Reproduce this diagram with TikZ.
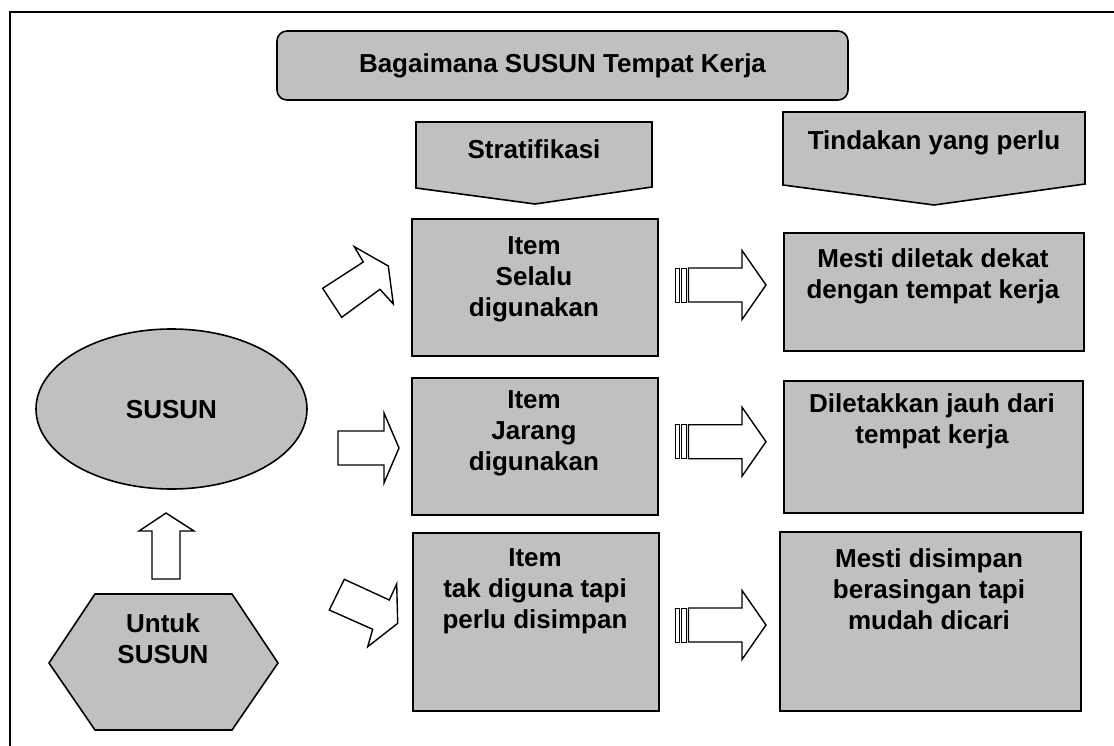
\documentclass[tikz,border=0pt]{standalone}
\usepackage{fontspec}
\setmainfont{Liberation Sans}
\usetikzlibrary{shapes.geometric}
\definecolor{boxgray}{RGB}{192,192,192}
\begin{document}
\begin{tikzpicture}[x=1pt,y=-1pt,
  shp/.style={draw=black, line width=1.6pt, fill=boxgray, line join=miter},
  box/.style={shp, rectangle, inner sep=0pt, anchor=north west},
  arr/.style={draw=black, line width=1.4pt, fill=white, line join=miter},
  bar/.style={draw=black, line width=0.8pt, fill=white},
  txt/.style={font=\bfseries\fontsize{26}{31}\selectfont, align=center, inner sep=0pt, text=black},
  striped/.pic={
    \draw[bar] (675,-17) rectangle (679.5,17);
    \draw[bar] (681,-17) rectangle (686.5,17);
    \draw[arr] (688.5,-17) -- (742,-17) -- (742,-34.5) -- (766,0) -- (742,34.5) -- (742,17) -- (688.5,17) -- cycle;
  }]
\useasboundingbox (0,0) rectangle (1114,745);
\clip (0,0) rectangle (1114,745);
% outer frame
\draw[line width=2.4pt] (10,770) -- (10,12) -- (1140,12);
% title
\node[shp, txt, rounded corners=10pt, minimum width=571pt, minimum height=69pt] (title) at (562.5,65.5) {Bagaimana SUSUN Tempat Kerja};
% headers
\draw[shp] (416,122) -- (652,122) -- (652,187) -- (535,204) -- (416,188) -- cycle;
\node[txt, anchor=base] (strat) at (534,158) {Stratifikasi};
\draw[shp] (783,112) -- (1085,112) -- (1085,184) -- (934,205) -- (783,185) -- cycle;
\node[txt, anchor=base] (tind) at (934,149) {Tindakan yang perlu};
% middle column
\node[box, minimum width=246pt, minimum height=137pt] (m1) at (411,218) {};
\node[txt, anchor=north] (m1t) at (534,236) {Item\\Selalu\\digunakan};
\node[box, minimum width=246pt, minimum height=137pt] (m2) at (411,377) {};
\node[txt, anchor=north] (m2t) at (534,390) {Item\\Jarang\\digunakan};
\node[box, minimum width=246pt, minimum height=178pt] (m3) at (412,532) {};
\node[txt, anchor=north] (m3t) at (535,548) {Item\\tak diguna tapi\\perlu disimpan};
% right column
\node[box, minimum width=300pt, minimum height=118pt] (r1) at (783,232) {};
\node[txt, anchor=north] (r1t) at (933,248) {Mesti diletak dekat\\dengan tempat kerja};
\node[box, minimum width=299pt, minimum height=132pt] (r2) at (783,380) {};
\node[txt, anchor=north] (r2t) at (932,393) {Diletakkan jauh dari\\tempat kerja};
\node[box, minimum width=301pt, minimum height=179pt] (r3) at (779,531) {};
\node[txt, anchor=north] (r3t) at (929,548) {Mesti disimpan\\berasingan tapi\\mudah dicari};
% ellipse and hexagon
\node[shp, ellipse, minimum width=271pt, minimum height=160pt, inner sep=0pt] (el) at (171.5,409) {};
\node[txt, anchor=base] (elt) at (171.5,418) {SUSUN};
\draw[shp] (95,594) -- (232,594) -- (278,663) -- (232,730) -- (95,730) -- (49,663) -- cycle;
\node[txt, anchor=north] (hext) at (163,613) {Untuk\\SUSUN};
% block arrows
\draw[arr] (152,579) -- (152,531) -- (139,531) -- (166,513) -- (194,531) -- (180,531) -- (180,579) -- cycle;
\draw[arr] (322.7,288.3) -- (363.3,262) -- (354.3,246.7) -- (388.3,266) -- (393.3,304) -- (380,289.3) -- (341.7,317.3) -- cycle;
\draw[arr] (338,431) -- (384,431) -- (384,413) -- (399,448) -- (384,483) -- (384,465) -- (338,465) -- cycle;
\draw[arr] (344.3,579.3) -- (389.3,600) -- (396.7,584) -- (397.7,623.3) -- (367.7,646.7) -- (372.7,629.3) -- (329.3,610) -- cycle;
% striped arrows
\pic at (0,285) {striped};
\pic at (0,441.7) {striped};
\pic at (0,625) {striped};
\end{tikzpicture}
\end{document}
